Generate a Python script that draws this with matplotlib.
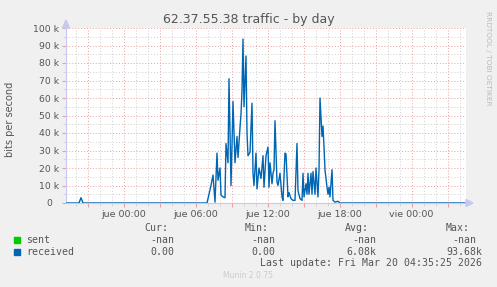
import matplotlib
matplotlib.use('Agg')
import matplotlib.pyplot as plt
import numpy as np

# 5-minute samples since start of window (Wed ~19:12), received traffic in k bits/s
samples = [0, 13, 15, 17, 141, 145, 147, 149, 151, 152, 154, 155, 157, 159, 160,
           162, 163, 165, 166, 167, 169, 171, 172, 174, 175, 176, 177, 178, 180,
           181, 182, 184, 186, 187, 188, 190, 191, 193, 195, 197, 198, 200, 202,
           203, 204, 206, 207, 208, 209, 211, 212, 214, 216, 217, 219, 220, 222,
           223, 225, 227, 229, 231, 232, 234, 236, 237, 238, 240, 241, 242, 243,
           245, 246, 247, 249, 250, 252, 253, 254, 256, 257, 258, 259, 261, 262,
           263, 264, 266, 267, 269, 272, 274, 400]
received_k = [0, 0, 3, 0, 0, 10, 16, 0.5, 28.5, 13, 20, 4.5, 3.5, 3, 34,
              23, 71, 10, 33, 58, 23, 38, 26, 43, 51, 64, 93.68, 55, 84,
              40, 27, 29, 57, 17, 10, 28.5, 8, 20, 14, 27, 9, 27, 32,
              9, 23, 11, 17, 19, 47, 12, 10, 17, 3.5, 1.5, 28.5, 28, 3.5,
              6, 2.5, 1.5, 1.5, 34, 7, 2.5, 1.5, 17, 3.5, 11, 5, 17, 5,
              17, 5, 18, 5, 20, 3.5, 19, 60, 38, 44, 32, 19, 9, 5,
              9, 3.5, 19, 1.5, 0.5, 1, 0, 0]

start_h = -57.5 / 12  # hours relative to jue 00:00
tick_hours = [0, 6, 12, 18, 24]
tick_labels = ['jue 00:00', 'jue 06:00', 'jue 12:00', 'jue 18:00', 'vie 00:00']

legend_names = ['sent', 'received']
legend_colors = ['#00CC00', '#0066B3']
cur = ['-nan', '0.00']
mins = ['-nan', '0.00']
avgs = ['-nan', '6.08k']
maxs = ['-nan', '93.68k']

W, H = 497, 287
fig = plt.figure(figsize=(W / 100, H / 100), dpi=100)
fig.patch.set_facecolor('#F0F0F0')

def px(x, y):
    return x / W, 1 - y / H

ax = fig.add_axes([66 / W, 1 - 203 / H, 400 / W, 175 / H])
ax.set_facecolor('white')

hours = start_h + np.array(samples) / 12
ax.plot(hours, np.array(received_k) * 1000, color=legend_colors[1], lw=1.0, zorder=3)

ax.set_xlim(start_h, start_h + 400 / 12)
ax.set_ylim(0, 100000)

major_x = np.arange(-3, 30, 3)
minor_x = np.arange(-4, 29, 1)
ax.set_xticks(major_x)
ax.set_xticklabels([tick_labels[tick_hours.index(h)] if h in tick_hours else '' for h in major_x])
ax.set_xticks(minor_x, minor=True)
ax.set_yticks(np.arange(0, 100001, 10000))
ax.set_yticklabels(['0  '] + ['%d k' % v for v in range(10, 101, 10)])
ax.set_yticks(np.arange(5000, 100000, 10000), minor=True)

dots = (0, (1, 2))
ax.grid(which='major', color='#E8A0A0', linestyle=dots, lw=0.7)
ax.grid(which='minor', color='#D0D0D0', linestyle=dots, lw=0.7)
ax.set_axisbelow(True)

for s in ['top', 'right']:
    ax.spines[s].set_visible(False)
for s in ['left', 'bottom']:
    ax.spines[s].set_color('#C8C8F0')
    ax.spines[s].set_linewidth(0.8)

ax.tick_params(which='major', length=3, color='#E8A0A0', labelsize=6.8,
               labelcolor='#555555', pad=2)
ax.tick_params(which='minor', length=2, color='#D0D0D0')
ax.tick_params(axis='y', labelsize=6.7)

# axis arrows
fig.patches.append(matplotlib.patches.Polygon(
    [px(62.5, 28), px(69.5, 28), px(66, 20)], closed=True,
    transform=fig.transFigure, color='#C8C8F0'))
fig.patches.append(matplotlib.patches.Polygon(
    [px(466, 199.5), px(466, 206.5), px(473, 203)], closed=True,
    transform=fig.transFigure, color='#C8C8F0'))

fig.text(*px(248.5, 19), '62.37.55.38 traffic - by day', ha='center', va='center',
         fontsize=9, color='#555555')
fig.text(*px(10, 119), 'bits per second', rotation=90, ha='center', va='center',
         fontsize=7, color='#555555')
fig.text(*px(488, 58), 'RRDTOOL / TOBI OETIKER', rotation=270, ha='center', va='center',
         fontsize=5.3, color='#BBBBBB')

mono = 'DejaVu Sans Mono'
fs = 7.1
for x, label in zip([168, 269, 369, 470], ['Cur:', 'Min:', 'Avg:', 'Max:']):
    fig.text(*px(x, 228), label, ha='right', va='center', family=mono, fontsize=fs, color='#555555')

for i, (name, col) in enumerate(zip(legend_names, legend_colors)):
    y = 240 + i * 12
    fig.patches.append(matplotlib.patches.Rectangle(
        px(14, y + 3), 6 / W, 6 / H, transform=fig.transFigure, color=col))
    fig.text(*px(26.5, y), name, ha='left', va='center', family=mono, fontsize=fs, color='#555555')
    fig.text(*px(174, y), cur[i], ha='right', va='center', family=mono, fontsize=fs, color='#555555')
    fig.text(*px(275, y), mins[i], ha='right', va='center', family=mono, fontsize=fs, color='#555555')
    fig.text(*px(376, y), avgs[i], ha='right', va='center', family=mono, fontsize=fs, color='#555555')
    fig.text(*px(476.5 if i == 0 else 482.5, y), maxs[i], ha='right', va='center',
             family=mono, fontsize=fs, color='#555555')

fig.text(*px(482.5, 263.5), 'Last update: Fri Mar 20 04:35:25 2026', ha='right', va='center',
         family=mono, fontsize=fs, color='#555555')
fig.text(*px(248, 276), 'Munin 2.0.75', ha='center', va='center', fontsize=5.5, color='#CCCCCC')

fig.savefig('out.png', dpi=100, facecolor=fig.get_facecolor())
